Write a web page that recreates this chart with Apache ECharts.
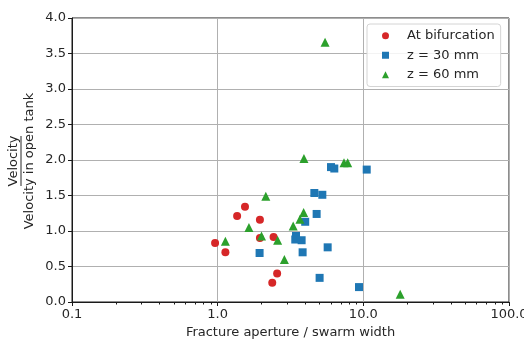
<!DOCTYPE html>
<html>
<head>
<meta charset="utf-8">
<script src="https://cdn.jsdelivr.net/npm/echarts@6/dist/echarts.min.js"></script>
<style>
  html, body { margin: 0; padding: 0; background: #fff; }
  #chart { width: 524px; height: 342px; }
</style>
</head>
<body>
<div id="chart"></div>
<script>
// Measurements: [aperture ratio, normalized velocity]
const bifurcation = [
  [0.96, 0.83], [1.13, 0.70], [1.36, 1.21], [1.54, 1.34], [1.95, 1.16],
  [1.95, 0.90], [2.42, 0.915], [2.56, 0.40], [2.37, 0.27]
];
const z30 = [
  [1.94, 0.69], [3.41, 0.88], [3.77, 0.87], [3.45, 0.93], [3.99, 1.13],
  [3.83, 0.70], [4.78, 1.24], [4.61, 1.535], [5.23, 1.51], [5.69, 0.77],
  [5.01, 0.34], [6.00, 1.90], [6.32, 1.88], [10.55, 1.865], [9.34, 0.21]
];
const z60 = [
  [1.13, 0.855], [1.64, 1.05], [2.14, 1.49], [2.00, 0.93], [2.58, 0.87],
  [2.87, 0.60], [3.30, 1.07], [3.67, 1.165], [3.89, 1.26], [3.91, 2.02],
  [7.37, 1.96], [7.81, 1.96], [5.46, 3.66], [17.9, 0.11]
];
const seriesNames = ['At bifurcation', 'z = 30 mm', 'z = 60 mm'];
const xTickLabels = { 0.1: '0.1', 1: '1.0', 10: '10.0', 100: '100.0' };

const FONT = 'DejaVu Sans';
const FS = 13;
const INK = '#262626';
const chart = echarts.init(document.getElementById('chart'), null, { renderer: 'canvas' });

chart.setOption({
  animation: false,
  backgroundColor: '#fff',
  textStyle: { fontFamily: FONT },
  grid: {
    left: 72, right: 15, top: 18, bottom: 40,
    outerBoundsMode: 'none', containLabel: false,
    show: true, borderColor: '#1a1a1a', borderWidth: 1, backgroundColor: 'transparent'
  },
  xAxis: {
    type: 'log', logBase: 10, min: 0.1, max: 100,
    name: 'Fracture aperture / swarm width',
    nameLocation: 'middle', nameGap: 23,
    nameTextStyle: { fontFamily: FONT, fontSize: FS, color: INK },
    axisLine: { show: true, lineStyle: { color: '#1a1a1a', width: 1 } },
    axisTick: { show: true, inside: false, length: 4, lineStyle: { color: '#1a1a1a' } },
    minorTick: { show: true, splitNumber: 9, length: 2.5, lineStyle: { color: '#1a1a1a', width: 1 } },
    axisLabel: {
      fontFamily: FONT, fontSize: FS, color: INK, margin: 6,
      formatter: function (v) { return xTickLabels[v] !== undefined ? xTickLabels[v] : ''; }
    },
    splitLine: { show: true, lineStyle: { color: '#b0b0b0', width: 1 } }
  },
  yAxis: {
    type: 'value', min: 0, max: 4, interval: 0.5,
    axisLine: { show: true, lineStyle: { color: '#1a1a1a', width: 1 } },
    axisTick: { show: true, inside: false, length: 4, lineStyle: { color: '#1a1a1a' } },
    axisLabel: {
      fontFamily: FONT, fontSize: FS, color: INK, margin: 6,
      formatter: function (v) { return v.toFixed(1); }
    },
    splitLine: { show: true, lineStyle: { color: '#b0b0b0', width: 1 } }
  },
  legend: {
    orient: 'vertical',
    left: 367, top: 24,
    data: seriesNames,
    itemWidth: 7, itemHeight: 7, itemGap: 4,
    padding: [4, 6, 4, 15],
    borderColor: '#d4d4d4', borderWidth: 1, borderRadius: 3,
    backgroundColor: 'rgba(255,255,255,0.85)',
    textStyle: { fontFamily: FONT, fontSize: FS, color: INK, lineHeight: 15.5, padding: [0, 0, 0, 13] }
  },
  graphic: [{
    type: 'group',
    x: 21, y: 161,
    rotation: Math.PI / 2,
    children: [
      { type: 'text', x: 0, y: -1,
        style: { text: 'Velocity', fontFamily: FONT, fontSize: FS, fill: INK,
                 align: 'center', verticalAlign: 'bottom' } },
      { type: 'line', shape: { x1: -25, y1: 0, x2: 25, y2: 0 },
        style: { stroke: INK, lineWidth: 1 } },
      { type: 'text', x: 0, y: 2,
        style: { text: 'Velocity in open tank', fontFamily: FONT, fontSize: FS, fill: INK,
                 align: 'center', verticalAlign: 'top' } }
    ]
  }],
  series: [
    {
      name: seriesNames[0], type: 'scatter', data: bifurcation,
      symbol: 'circle', symbolSize: 8,
      itemStyle: { color: '#d62728', opacity: 1 }
    },
    {
      name: seriesNames[1], type: 'scatter', data: z30,
      symbol: 'rect', symbolSize: 8,
      itemStyle: { color: '#1f77b4', opacity: 1 }
    },
    {
      name: seriesNames[2], type: 'scatter', data: z60,
      symbol: 'triangle', symbolSize: 9,
      itemStyle: { color: '#2ca02c', opacity: 1 }
    }
  ]
});
</script>
</body>
</html>
